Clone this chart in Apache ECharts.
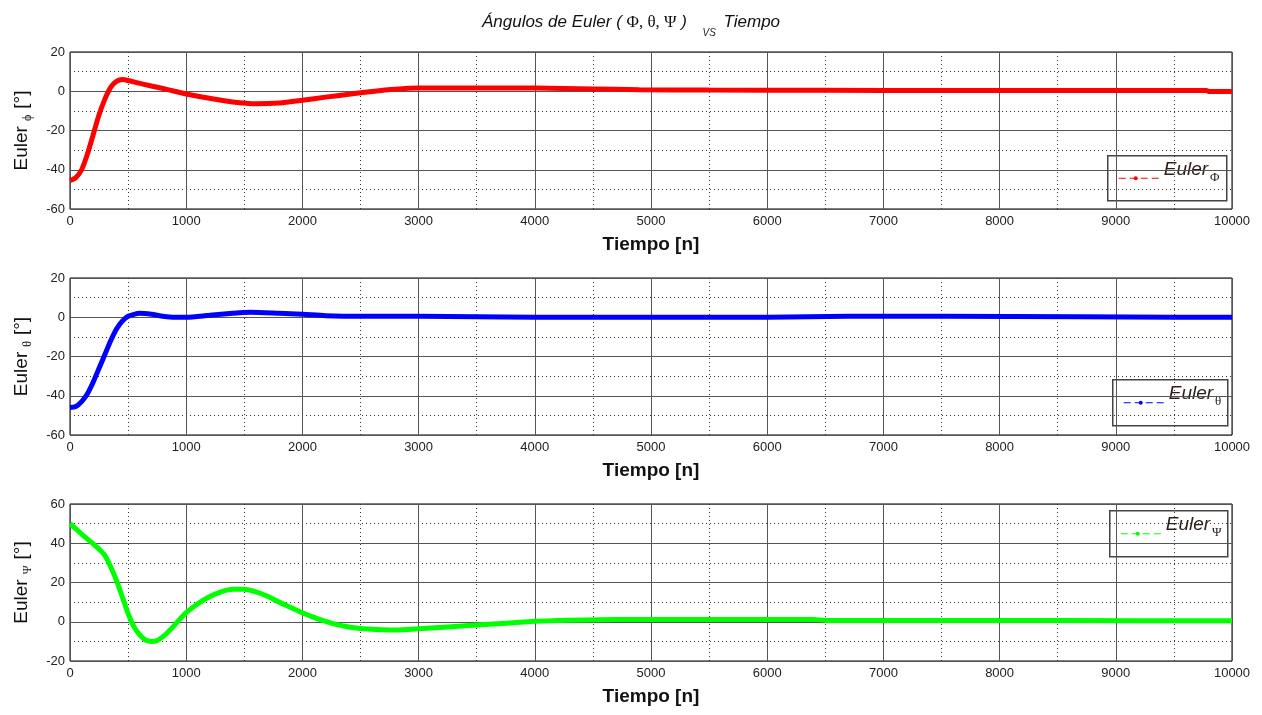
<!DOCTYPE html>
<html>
<head>
<meta charset="utf-8">
<script src="https://cdn.jsdelivr.net/npm/echarts@6/dist/echarts.min.js"></script>
<style>html,body{margin:0;padding:0;background:#fff;}#c{width:1262px;height:715px;}</style>
</head>
<body>
<div id="c"></div>
<script>
// ---- data ----
const xTicks = [0,1000,2000,3000,4000,5000,6000,7000,8000,9000,10000];

const phiT = [0,50,100,150,200,250,300,350,400,450,500,600,700,800,900,1000,1200,1400,1600,1800,2000,2200,2400,2600,2800,3000,3500,4000,4500,4900,5500,6500,7500,8500,9500,9780,9800,10000];
const phiV = [-45.5,-44,-40,-32,-22,-12,-4,2,5,6,5.5,4,2.7,1.4,0,-1.4,-3.6,-5.5,-6.4,-6,-4.6,-3,-1.5,-0.1,1,1.6,1.7,1.6,1.2,0.8,0.6,0.5,0.4,0.4,0.35,0.35,-0.1,-0.1];

const thetaT = [0,50,100,150,200,250,300,350,400,450,500,550,600,700,800,900,1000,1200,1400,1550,1800,2000,2200,2500,3000,3500,4000,5000,6000,6700,7500,8700,9500,10000];
const thetaV = [-46,-45.5,-43,-39,-33,-26,-19,-12,-6,-2,0.5,1.5,2,1.5,0.5,0,0,1,2,2.5,2,1.5,0.8,0.5,0.5,0.3,0,0,0,0.5,0.5,0.2,0,0];

const psiT = [0,100,200,250,300,350,400,450,500,550,600,650,700,750,800,850,900,950,1000,1100,1200,1300,1400,1500,1600,1700,1800,1900,2000,2100,2200,2300,2400,2500,2600,2700,2800,3000,3500,4000,4200,4700,5000,6000,6400,6500,7500,8500,10000];
const psiV = [50,44.7,39.7,37,33.8,28,21,12.7,4.2,-2.5,-6.7,-9.3,-10,-9.6,-7.6,-4.8,-1.7,1.6,4.6,9.2,12.7,15.2,16.5,16.5,15.2,13,10,7.3,4.6,2.2,0.2,-1.5,-2.7,-3.4,-3.8,-4.1,-4.2,-3.6,-1.7,0.2,0.7,1.2,1.2,1.2,1.2,0.7,0.6,0.6,0.5];

const panels = [
  {t: phiT, v: phiV, color: '#ff0000', min: -60, max: 20, sub: 'ϕ', legSub: 'Φ'},
  {t: thetaT, v: thetaV, color: '#0000ff', min: -60, max: 20, sub: 'θ', legSub: 'θ'},
  {t: psiT, v: psiV, color: '#00ff00', min: -20, max: 60, sub: 'Ψ', legSub: 'Ψ'}
];

// ---- chart ----
const chart = echarts.init(document.getElementById('c'), null, {renderer: 'canvas'});
const tops = [52, 278, 504];
const SANS = 'Liberation Sans, Arial, sans-serif';
const SERIF = 'Liberation Serif, Times New Roman, serif';

const grids = [], xAxes = [], yAxes = [], series = [];
panels.forEach((p, i) => {
  grids.push({left: 70, top: tops[i], width: 1162, height: 157, show: true, borderColor: '#000', borderWidth: 1, backgroundColor: '#fff'});
  xAxes.push({
    type: 'value', gridIndex: i, min: xTicks[0], max: xTicks[xTicks.length - 1], interval: xTicks[1] - xTicks[0],
    name: 'Tiempo [n]', nameLocation: 'middle', nameGap: 26,
    nameTextStyle: {fontFamily: SANS, fontSize: 19, fontWeight: 'bold', color: '#111'},
    axisLine: {show: false}, axisTick: {show: false},
    axisLabel: {fontFamily: SANS, fontSize: 13, color: '#222', margin: 6, formatter: v => String(v)},
    splitLine: {show: true, lineStyle: {color: '#555', width: 1}},
    minorTick: {show: false, splitNumber: 2},
    minorSplitLine: {show: true, lineStyle: {color: '#333', width: 1, type: [1, 3]}}
  });
  yAxes.push({
    type: 'value', gridIndex: i, min: p.min, max: p.max, interval: 20,
    name: '{a|Euler}{s|' + p.sub + '}{a|[°]}', nameLocation: 'middle', nameRotate: 90, nameGap: 36,
    nameTextStyle: {
      rich: {
        a: {fontFamily: SANS, fontSize: 19, color: '#111', lineHeight: 22, verticalAlign: 'top'},
        s: {fontFamily: SERIF, fontSize: 12, color: '#111', lineHeight: 22, verticalAlign: 'bottom', padding: [10, 6, 0, 5]}
      }
    },
    axisLine: {show: false}, axisTick: {show: false},
    axisLabel: {fontFamily: SANS, fontSize: 13, color: '#222', margin: 5},
    splitLine: {show: true, lineStyle: {color: '#555', width: 1}},
    minorTick: {show: false, splitNumber: 2},
    minorSplitLine: {show: true, lineStyle: {color: '#333', width: 1, type: [1, 3]}}
  });
  series.push({
    type: 'line', xAxisIndex: i, yAxisIndex: i, smooth: 0.25, showSymbol: false, symbol: 'none',
    data: p.t.map((t, k) => [t, p.v[k]]),
    lineStyle: {color: p.color, width: 5}, itemStyle: {color: p.color}, animation: false, silent: true
  });
});

// legend boxes (graphic)
const legBoxes = [
  {x: 1107, y: 155, w: 119, h: 45},
  {x: 1112, y: 379, w: 115, h: 46},
  {x: 1109, y: 510, w: 118, h: 46}
];
const graphic = [];
legBoxes.forEach((b, i) => {
  const p = panels[i];
  graphic.push({
    type: 'group', left: b.x, top: b.y, children: [
      {type: 'rect', shape: {x: 0, y: 0, width: b.w, height: b.h}, style: {fill: '#fff', stroke: '#444', lineWidth: 1.5}},
      {type: 'line', shape: {x1: 11, y1: b.h / 2, x2: 51, y2: b.h / 2}, style: {stroke: p.color, lineWidth: 1, lineDash: [7, 4]}},
      {type: 'circle', shape: {cx: 28, cy: b.h / 2, r: 2}, style: {fill: p.color}},
      {type: 'text', x: 56, y: 4, style: {
        text: '{e|Euler}{s|' + p.legSub + '}',
        rich: {
          e: {fontFamily: SANS, fontStyle: 'italic', fontSize: 19, fill: '#2e1f16', lineHeight: 24, verticalAlign: 'top'},
          s: {fontFamily: SERIF, fontSize: 13, fill: '#2e1f16', lineHeight: 24, verticalAlign: 'bottom', padding: [14, 0, 0, 2]}
        }
      }}
    ]
  });
});

chart.setOption({
  animation: false,
  backgroundColor: '#fff',
  title: {
    text: '{i|Ángulos de Euler ( }{g|Φ, θ, Ψ}{i| )  }{v|VS}{i| Tiempo}',
    left: 'center', top: 9,
    textStyle: {
      fontWeight: 'normal',
      rich: {
        i: {fontFamily: SANS, fontStyle: 'italic', fontWeight: 'normal', fontSize: 17, color: '#111', lineHeight: 24, verticalAlign: 'top'},
        g: {fontFamily: SERIF, fontWeight: 'normal', fontSize: 17, color: '#111', lineHeight: 24, verticalAlign: 'top'},
        v: {fontFamily: SANS, fontStyle: 'italic', fontWeight: 'normal', fontSize: 10, color: '#222', lineHeight: 24, verticalAlign: 'bottom', padding: [12, 3, 0, 6]}
      }
    }
  },
  grid: grids, xAxis: xAxes, yAxis: yAxes, series: series,
  graphic: graphic
});
</script>
</body>
</html>
